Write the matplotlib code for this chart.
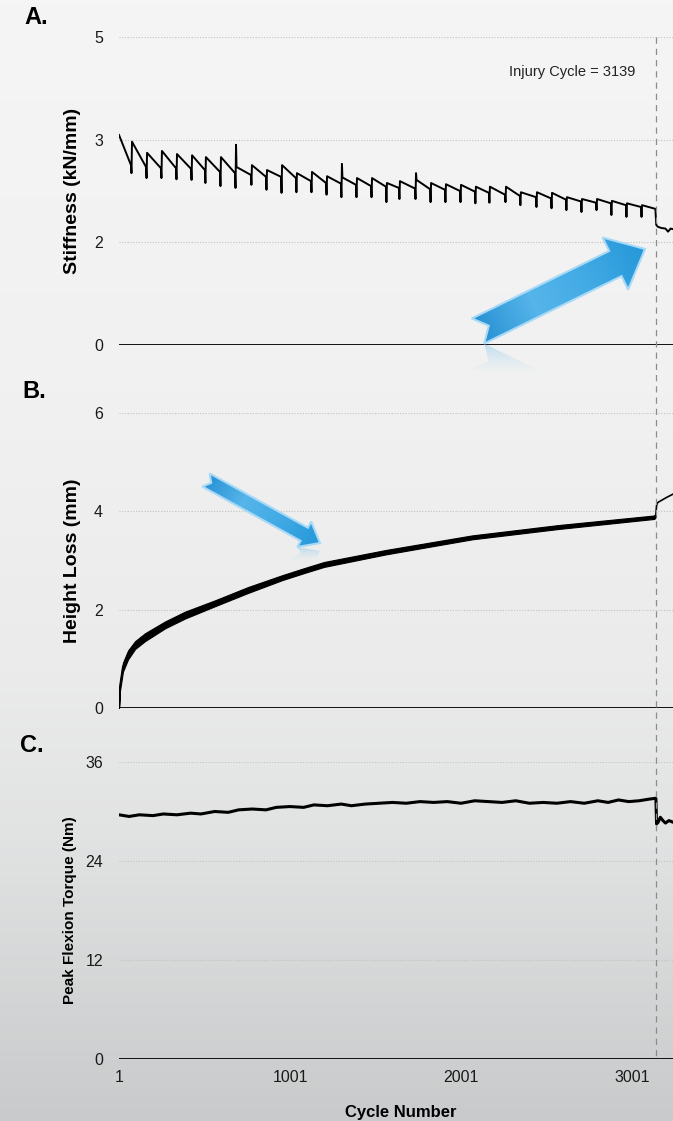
import numpy as np
import matplotlib.pyplot as plt
import matplotlib.transforms as mtransforms
from matplotlib.colors import LinearSegmentedColormap, to_rgb
from matplotlib.lines import Line2D
from matplotlib.patches import Polygon

plt.rcParams['font.family'] = ['Liberation Sans', 'DejaVu Sans']

INJURY = 3139

# stiffness: one entry per loading block (tooth of the sawtooth)
tooth_cycle = [1, 77, 165, 252, 340, 428, 509, 597, 685, 778, 866, 954, 1041,
               1129, 1217, 1304, 1392, 1480, 1567, 1643, 1737, 1825, 1912, 2000, 2087,
               2169, 2263, 2350, 2444, 2532, 2619, 2707, 2795, 2882, 2970, 3058]
tooth_peak = [3.41, 3.30, 3.12, 3.15, 3.10, 3.08, 3.05, 3.05, 2.89, 2.92, 2.84, 2.92, 2.79,
              2.81, 2.74, 2.72, 2.71, 2.71, 2.63, 2.66, 2.68, 2.63, 2.61, 2.60, 2.57,
              2.57, 2.57, 2.48, 2.48, 2.47, 2.40, 2.37, 2.37, 2.34, 2.30, 2.27]
tooth_low = [2.92, 2.89, 2.87, 2.87, 2.86, 2.84, 2.81, 2.79, 2.76, 2.73, 2.73, 2.71, 2.66,
             2.63, 2.62, 2.60, 2.58, 2.57, 2.55, 2.54, 2.53, 2.52, 2.50, 2.49, 2.47,
             2.44, 2.42, 2.40, 2.38, 2.36, 2.33, 2.31, 2.30, 2.27, 2.24, 2.21]
tooth_dip = [2.79, 2.71, 2.71, 2.69, 2.68, 2.63, 2.58, 2.55, 2.60, 2.52, 2.47, 2.48,
             2.48, 2.44, 2.40, 2.40, 2.40, 2.32, 2.37, 2.37, 2.32, 2.32, 2.32, 2.30,
             2.31, 2.32, 2.27, 2.24, 2.22, 2.19, 2.16, 2.19, 2.11, 2.08, 2.08]
spike_cycle = [685, 1304, 1737]
spike_top = [3.25, 2.94, 2.79]
stiff_post_cycle = [3141, 3150, 3170, 3195, 3210, 3225, 3239]
stiff_post = [1.95, 1.92, 1.90, 1.89, 1.84, 1.89, 1.88]

# height loss
height_cycle = [1, 7, 24, 54, 95, 153, 270, 387, 562, 755, 954, 1088, 1200, 1562, 2064, 2567, 3128, 3136]
height_loss = [0.0, 0.43, 0.83, 1.08, 1.28, 1.44, 1.69, 1.89, 2.13, 2.40, 2.65, 2.80, 2.92, 3.17, 3.47, 3.68, 3.88, 3.90]
height_spread = [0.0, 0.07, 0.09, 0.09, 0.08, 0.08, 0.07, 0.07, 0.06, 0.06, 0.05, 0.05, 0.05, 0.045, 0.04, 0.04, 0.035, 0.035]
height_post_cycle = [3136, 3139, 3143, 3150, 3170, 3200, 3239]
height_post = [3.90, 3.95, 4.12, 4.18, 4.22, 4.28, 4.35]

# peak flexion torque
torque_cycle = [1, 60, 120, 200, 260, 340, 420, 480, 560, 640, 700, 780, 860, 920, 1000,
                1080, 1140, 1220, 1300, 1360, 1440, 1520, 1600, 1680, 1760, 1840, 1920, 2000,
                2080, 2160, 2240, 2320, 2400, 2480, 2560, 2640, 2720, 2800, 2860, 2920, 2980,
                3040, 3100, 3136]
torque = [29.6, 29.4, 29.6, 29.5, 29.7, 29.6, 29.8, 29.7, 30.0, 29.9, 30.2, 30.3, 30.2, 30.5, 30.6,
          30.5, 30.8, 30.7, 30.9, 30.7, 30.9, 31.0, 31.1, 31.0, 31.2, 31.1, 31.2, 31.0,
          31.3, 31.2, 31.1, 31.3, 31.0, 31.1, 31.0, 31.2, 31.0, 31.3, 31.1, 31.4, 31.2,
          31.3, 31.5, 31.6]
torque_post_cycle = [3139, 3143, 3152, 3165, 3180, 3195, 3215, 3239]
torque_post = [31.6, 28.5, 28.7, 29.3, 28.9, 28.6, 28.9, 28.7]

x_ticks = [1, 1001, 2001, 3001]


def stiffness_path():
    xs, ys = [], []
    for i, c in enumerate(tooth_cycle):
        if i > 0:
            xs += [c - 6, c - 3]
            ys += [tooth_low[i - 1], tooth_dip[i - 1]]
        if c in spike_cycle:
            xs += [c, c + 3]
            ys += [spike_top[spike_cycle.index(c)], tooth_peak[i]]
        else:
            xs.append(c)
            ys.append(tooth_peak[i])
    xs.append(INJURY - 3)
    ys.append(tooth_low[-1])
    return xs + stiff_post_cycle, ys + stiff_post


W, H = 673, 1121
fig = plt.figure(figsize=(W / 100, H / 100), dpi=100)


def px_rect(left, top, right, bottom):
    return [left / W, 1 - bottom / H, (right - left) / W, (bottom - top) / H]


# soft grey backdrop
bg = fig.add_axes([0, 0, 1, 1], zorder=-5)
bg.axis('off')
bg_cmap = LinearSegmentedColormap.from_list(
    'bg', [(0, '#f5f5f5'), (0.35, '#f1f1f1'), (0.6, '#ebebeb'), (0.75, '#e1e2e2'), (1, '#c9cacb')])
bg.imshow(np.linspace(0, 1, 256)[:, None], cmap=bg_cmap, aspect='auto', extent=(0, 1, 0, 1), origin='upper')

axA = fig.add_axes(px_rect(119, 37, W, 345))
axB = fig.add_axes(px_rect(119, 413, W, 708))
axC = fig.add_axes(px_rect(119, 762, W, 1059))

for ax in (axA, axB, axC):
    ax.set_facecolor('none')
    for s in ax.spines.values():
        s.set_visible(False)
    ax.set_xlim(1, 3239)
    ax.axhline(0, color='black', lw=1.3, zorder=3)
    ax.grid(axis='y', ls=(0, (1, 1.5)), color='#c2c2c2', lw=0.8)
    ax.tick_params(length=0, labelsize=11.5, labelcolor='#1a1a1a', pad=11.5)

# panel A
sx, sy = stiffness_path()
axA.plot(sx, sy, color='black', lw=1.4, zorder=4)
axA.set_ylim(0, 5)
axA.set_yticks([0, 5 / 3, 10 / 3, 5], ['0', '2', '3', '5'])
axA.set_xticks([])
axA.set_ylabel('Stiffness (kN/mm)', fontsize=14, fontweight='bold')
axA.annotate('Injury Cycle = 3139', xy=(INJURY, 4.43), xytext=(-15, 0), textcoords='offset points',
             ha='right', va='center', fontsize=10.5, color='#222222')

# panel B
hc = np.array(height_cycle)
hl = np.array(height_loss)
hs = np.array(height_spread)
axB.fill_between(hc, hl - hs, hl + hs, color='black', lw=0.8, zorder=4)
axB.plot(hc, hl, color='black', lw=1.5, zorder=4)
axB.plot(height_post_cycle, height_post, color='black', lw=1.2, zorder=4)
axB.set_ylim(0, 6)
axB.set_yticks([0, 2, 4, 6])
axB.set_xticks([])
axB.set_ylabel('Height Loss (mm)', fontsize=14, fontweight='bold')

# panel C
axC.plot(torque_cycle + torque_post_cycle, torque + torque_post, color='black', lw=2.2, zorder=4)
axC.set_ylim(0, 36)
axC.set_yticks([0, 12, 24, 36])
axC.set_xticks(x_ticks)
axC.tick_params(axis='x', pad=8)
axC.set_ylabel('Peak Flexion Torque (Nm)', fontsize=11, fontweight='bold')
axC.set_xlabel('Cycle Number', fontsize=12, fontweight='bold')
axC.xaxis.set_label_coords(0.509, -0.155)

axA.yaxis.set_label_coords(-0.069, 0.5)
axB.yaxis.set_label_coords(-0.069, 0.5)
axC.yaxis.set_label_coords(-0.075, 0.5)

# injury cycle marker through all three panels
trans = mtransforms.blended_transform_factory(axC.transData, fig.transFigure)
fig.add_artist(Line2D([INJURY, INJURY], [1 - 37 / H, 1 - 1059 / H], transform=trans,
                      color='#8c8c8c', lw=0.9, dashes=(5, 4)))

for label, x, y in [('A.', 24, 18), ('B.', 22, 391), ('C.', 20, 746)]:
    fig.text(x / W, 1 - y / H, label, fontsize=17, fontweight='bold', ha='left', va='center')

# overlay in pixel units for the callout arrows
ov = fig.add_axes([0, 0, 1, 1], zorder=10)
ov.set_xlim(0, W)
ov.set_ylim(H, 0)
ov.axis('off')
ov.patch.set_alpha(0)

arrow_cmap = LinearSegmentedColormap.from_list('arr', ['#2891d3', '#56b5ea', '#40a9e4', '#2597d9'])


def blue_arrow(ax, tail, tip, half_w, head_w, head_len, notch, fade):
    tail = np.array(tail, float)
    tip = np.array(tip, float)
    u = tip - tail
    L = np.hypot(*u)
    u /= L
    n = np.array([-u[1], u[0]])
    base = tip - head_len * u
    pts = np.array([tail + half_w * n, base + half_w * n, base + head_w * n, tip,
                    base - head_w * n, base - half_w * n, tail - half_w * n, tail + notch * u])

    # faded reflection under the lowest point
    ym = pts[:, 1].max()
    ref = pts.copy()
    ref[:, 1] = 2 * ym - ref[:, 1]
    rx0, ry0 = ref.min(0)
    rx1, ry1 = ref.max(0)
    gx, gy = np.meshgrid(np.linspace(rx0, rx1, 200), np.linspace(ry0, ry1, 200))
    img = np.zeros(gx.shape + (4,))
    img[..., :3] = to_rgb('#5cb8ec')
    img[..., 3] = np.clip(1 - (gy - ym) / fade, 0, 1) ** 1.5 * 0.35
    rim = ax.imshow(img, extent=(rx0, rx1, ry1, ry0), origin='upper', aspect='auto', zorder=4)
    rpoly = Polygon(ref, closed=True, fc='none', ec='none')
    ax.add_patch(rpoly)
    rim.set_clip_path(rpoly)

    x0, y0 = pts.min(0)
    x1, y1 = pts.max(0)
    gx, gy = np.meshgrid(np.linspace(x0, x1, 200), np.linspace(y0, y1, 200))
    t = ((gx - tail[0]) * u[0] + (gy - tail[1]) * u[1]) / L
    im = ax.imshow(t, cmap=arrow_cmap, vmin=0, vmax=1, extent=(x0, x1, y1, y0),
                   origin='upper', aspect='auto', zorder=5)
    poly = Polygon(pts, closed=True, fc='none', ec='#a8d9f6', lw=1.5, zorder=6, joinstyle='miter')
    ax.add_patch(poly)
    im.set_clip_path(poly)


blue_arrow(ov, (478, 331), (645, 249), 14, 29, 33, 12, 32)
blue_arrow(ov, (206, 480), (320, 543), 7.5, 14.5, 18, 6, 14)
ov.set_xlim(0, W)
ov.set_ylim(H, 0)

fig.savefig('out.png', dpi=100)
